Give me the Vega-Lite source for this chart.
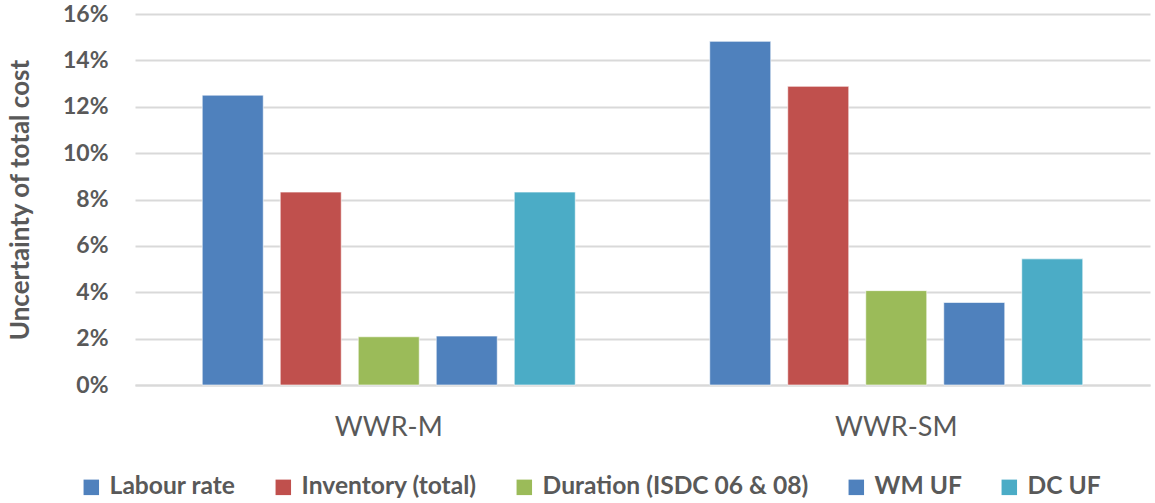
{
  "$schema": "https://vega.github.io/schema/vega-lite/v6.json",
  "width": 1015,
  "height": 371,
  "autosize": {"type": "none"},
  "padding": {"left": 135, "top": 14, "right": 5, "bottom": 118},
  "background": "#ffffff",
  "data": {
    "values": [
      {"case": "WWR-M", "factor": "Labour rate", "value": 0.125},
      {"case": "WWR-M", "factor": "Inventory (total)", "value": 0.0832},
      {"case": "WWR-M", "factor": "Duration (ISDC 06 & 08)", "value": 0.0208},
      {"case": "WWR-M", "factor": "WM UF", "value": 0.0211},
      {"case": "WWR-M", "factor": "DC UF", "value": 0.0832},
      {"case": "WWR-SM", "factor": "Labour rate", "value": 0.1482},
      {"case": "WWR-SM", "factor": "Inventory (total)", "value": 0.1288},
      {"case": "WWR-SM", "factor": "Duration (ISDC 06 & 08)", "value": 0.0407},
      {"case": "WWR-SM", "factor": "WM UF", "value": 0.0356},
      {"case": "WWR-SM", "factor": "DC UF", "value": 0.0544}
    ]
  },
  "mark": {"type": "bar", "stroke": "#ffffff", "strokeWidth": 1, "strokeOpacity": 0.6},
  "encoding": {
    "x": {
      "field": "case",
      "type": "nominal",
      "scale": {"paddingInner": 0, "paddingOuter": 0},
      "axis": {
        "title": null,
        "labelAngle": 0,
        "labelFont": "Lato",
        "labelFontSize": 27,
        "labelColor": "#595959",
        "labelPadding": 29,
        "ticks": false,
        "domainColor": "#D9D9D9",
        "domainWidth": 2
      }
    },
    "xOffset": {
      "field": "factor",
      "type": "nominal",
      "sort": ["Labour rate", "Inventory (total)", "Duration (ISDC 06 & 08)", "WM UF", "DC UF"],
      "scale": {"paddingInner": 0.218, "paddingOuter": 0.862}
    },
    "y": {
      "field": "value",
      "type": "quantitative",
      "scale": {"domain": [0, 0.16], "nice": false},
      "axis": {
        "title": "Uncertainty of total cost",
        "titleFont": "Lato",
        "titleFontSize": 26,
        "titleFontWeight": "bold",
        "titleColor": "#595959",
        "titleX": -115,
        "titleBaseline": "middle",
        "format": ".0%",
        "values": [0, 0.02, 0.04, 0.06, 0.08, 0.1, 0.12, 0.14, 0.16],
        "labelFont": "Lato",
        "labelFontSize": 23,
        "labelFontWeight": "bold",
        "labelColor": "#595959",
        "labelPadding": 27,
        "ticks": false,
        "domain": false,
        "gridColor": "#D9D9D9",
        "gridWidth": 2
      }
    },
    "color": {
      "field": "factor",
      "type": "nominal",
      "scale": {
        "domain": ["Labour rate", "Inventory (total)", "Duration (ISDC 06 & 08)", "WM UF", "DC UF"],
        "range": ["#4F81BD", "#C0504D", "#9BBB59", "#4F81BD", "#4BACC6"]
      },
      "legend": {
        "title": null,
        "orient": "none",
        "direction": "horizontal",
        "legendX": -56,
        "legendY": 461,
        "symbolType": "square",
        "symbolSize": 240,
        "symbolStrokeWidth": 0,
        "labelFont": "Lato",
        "labelFontSize": 24.6,
        "labelFontWeight": "bold",
        "labelColor": "#595959",
        "labelOffset": 6,
        "columnPadding": 35,
        "labelLimit": 500
      }
    }
  },
  "config": {"view": {"stroke": null}}
}
